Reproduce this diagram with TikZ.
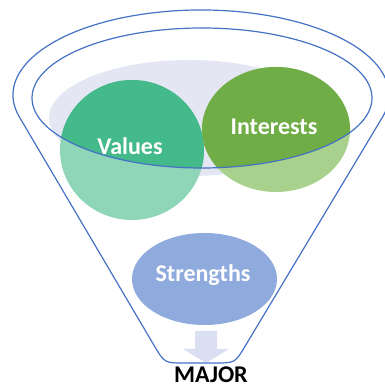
\documentclass[tikz,border=0pt]{standalone}
\usepackage{fontspec}
\setmainfont{Carlito}
\definecolor{rimblue}{HTML}{4472C4}
\definecolor{shadelav}{HTML}{E4E7F3}
\definecolor{valdark}{HTML}{44B98A}
\definecolor{vallight}{HTML}{8FD6B9}
\definecolor{intdark}{HTML}{70AD47}
\definecolor{intlight}{HTML}{A9D18E}
\definecolor{strfill}{HTML}{8FAADC}
\definecolor{arrfill}{HTML}{DAE0F1}

\tikzset{
  rim/.style={draw=rimblue, line width=1.2pt},
  word/.style={text=white, anchor=base, font=\bfseries\fontsize{24}{24}\selectfont},
}

\begin{document}
\begin{tikzpicture}[x=1pt, y=1pt]
  \useasboundingbox (0,0) rectangle (384,387);
  % shade inside the rim
  \fill[shadelav] (189,269) ellipse [x radius=140, y radius=58];
  % the two circles, lower part
  \fill[vallight] (132,237) ellipse [x radius=72, y radius=70];
  \fill[intlight] (276,257.5) ellipse [x radius=74, y radius=62.5];
  % part inside the rim is darker
  \begin{scope}
    \clip (202,289) ellipse [x radius=170, y radius=70];
    \fill[valdark] (132,237) ellipse [x radius=72, y radius=70];
    \fill[intdark] (276,257.5) ellipse [x radius=74, y radius=62.5];
  \end{scope}
  \fill[strfill] (204.5,108) ellipse [x radius=72.5, y radius=46];
  % down arrow
  \fill[arrfill] (195,56) -- (217,56) -- (217,38) -- (229,38) -- (206,24)
    -- (183,38) -- (195,38) -- cycle;
  % funnel
  \draw[rim] (202,289) ellipse [x radius=170, y radius=70];
  \draw[rim] (19.4,270) arc [start angle=195, end angle=-15, x radius=188, y radius=85]
    -- (245.3,41.1) .. controls (235,24) .. (215,24) -- (184.5,24)
    .. controls (164.5,24) .. (154.3,41.2) -- cycle;
  % labels
  \node[word] (values) at (130,232) {Values};
  \node[word] (interests) at (274,252) {Interests};
  \node[word] (strengths) at (203,105) {Strengths};
  \node[anchor=base, inner sep=0pt, font=\bfseries\fontsize{24}{24}\selectfont] (major) at (211,5) {MAJOR};
\end{tikzpicture}
\end{document}
